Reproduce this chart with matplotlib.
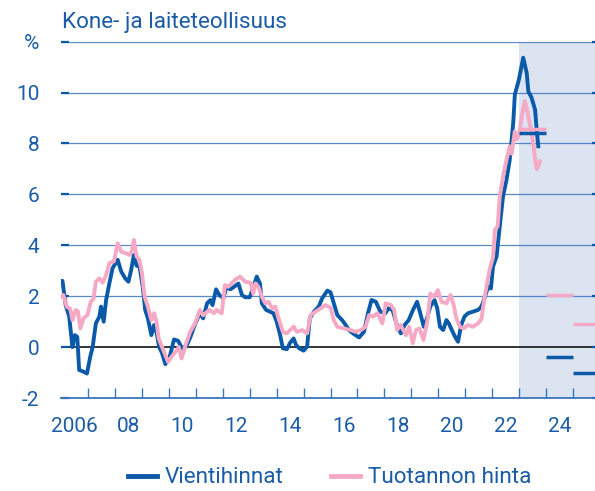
import matplotlib.pyplot as plt
import numpy as np
from matplotlib.ticker import FixedLocator

# Vientihinnat (vuosimuutos, %)
vienti_x = [2006.0, 2006.05, 2006.17, 2006.3, 2006.42, 2006.51, 2006.6, 2006.67, 2006.8, 2006.96,
            2007.08, 2007.17, 2007.29, 2007.42, 2007.48, 2007.58, 2007.67, 2007.79, 2007.91, 2008.1,
            2008.23, 2008.38, 2008.5, 2008.6, 2008.7, 2008.8, 2008.91, 2009.03, 2009.12, 2009.22,
            2009.35, 2009.45, 2009.55, 2009.64, 2009.74, 2009.87, 2010.03, 2010.19, 2010.34, 2010.49,
            2010.65, 2010.8, 2010.96, 2011.15, 2011.27, 2011.42, 2011.54, 2011.62, 2011.75, 2011.87,
            2012.02, 2012.14, 2012.28, 2012.42, 2012.58, 2012.71, 2012.83, 2013.0, 2013.14, 2013.26,
            2013.38, 2013.45, 2013.61, 2013.76, 2013.88, 2014.0, 2014.13, 2014.23, 2014.38, 2014.5,
            2014.63, 2014.72, 2014.84, 2015.0, 2015.13, 2015.23, 2015.38, 2015.56, 2015.69, 2015.88,
            2016.0, 2016.12, 2016.25, 2016.43, 2016.56, 2016.68, 2016.87, 2017.06, 2017.24, 2017.39,
            2017.52, 2017.68, 2017.85, 2018.03, 2018.15, 2018.3, 2018.46, 2018.61, 2018.75, 2018.9,
            2019.06, 2019.21, 2019.33, 2019.46, 2019.58, 2019.7, 2019.86, 2019.96, 2020.06, 2020.18,
            2020.3, 2020.39, 2020.5, 2020.62, 2020.73, 2020.85, 2020.97, 2021.1, 2021.28, 2021.47,
            2021.57, 2021.65, 2021.85, 2021.95, 2022.03, 2022.16, 2022.28, 2022.4, 2022.53, 2022.65,
            2022.78, 2022.84, 2022.99, 2023.15, 2023.28, 2023.34, 2023.46, 2023.59, 2023.65, 2023.71]
vienti_y = [2.6, 2.6, 1.65, 1.2, 0.0, 0.47, 0.4, -0.9, -0.95, -1.04,
            -0.38, 0.0, 0.93, 1.2, 1.59, 1.0, 1.85, 2.5, 3.1, 3.43,
            2.97, 2.7, 2.57, 3.03, 3.62, 3.2, 3.16, 2.37, 1.46, 1.13,
            0.47, 0.87, 0.54, 0.0, -0.22, -0.67, -0.38, 0.3, 0.25, -0.05,
            0.04, 0.4, 0.87, 1.33, 1.13, 1.72, 1.85, 1.65, 2.27, 2.05,
            1.92, 2.37, 2.27, 2.37, 2.5, 2.05, 1.96, 1.96, 2.37, 2.77,
            2.5, 1.72, 1.46, 1.39, 1.33, 1.0, 0.47, -0.05, -0.08, 0.17,
            0.34, 0.08, -0.05, -0.14, 0.02, 1.13, 1.39, 1.59, 1.92, 2.22,
            2.15, 1.72, 1.26, 1.06, 0.87, 0.67, 0.51, 0.38, 0.6, 1.33,
            1.85, 1.78, 1.39, 1.33, 1.52, 1.46, 0.87, 0.54, 0.87, 1.06,
            1.46, 1.78, 1.33, 0.8, 1.13, 1.59, 1.85, 1.52, 0.8, 0.67,
            1.06, 0.93, 0.67, 0.41, 0.21, 0.87, 1.2, 1.33, 1.39, 1.46,
            1.55, 1.72, 2.37, 2.3, 3.16, 3.56, 4.74, 5.92, 6.57, 7.36,
            8.81, 9.92, 10.51, 11.37, 10.77, 10.05, 9.8, 9.33, 8.54, 7.89]

# Tuotannon hinta (vuosimuutos, %)
tuotanto_x = [2006.0, 2006.08, 2006.21, 2006.34, 2006.42, 2006.55, 2006.63, 2006.71, 2006.83, 2006.98,
              2007.1, 2007.2, 2007.29, 2007.42, 2007.54, 2007.67, 2007.79, 2007.96, 2008.1, 2008.23,
              2008.42, 2008.55, 2008.63, 2008.7, 2008.8, 2008.91, 2009.0, 2009.1, 2009.22, 2009.35,
              2009.45, 2009.54, 2009.62, 2009.72, 2009.82, 2009.97, 2010.1, 2010.25, 2010.37, 2010.47,
              2010.62, 2010.79, 2010.98, 2011.15, 2011.27, 2011.5, 2011.67, 2011.77, 2011.96, 2012.08,
              2012.2, 2012.33, 2012.45, 2012.64, 2012.83, 2013.03, 2013.13, 2013.21, 2013.32, 2013.45,
              2013.58, 2013.7, 2013.83, 2013.95, 2014.07, 2014.23, 2014.38, 2014.5, 2014.63, 2014.75,
              2014.94, 2015.13, 2015.26, 2015.44, 2015.63, 2015.81, 2016.0, 2016.12, 2016.25, 2016.5,
              2016.75, 2016.93, 2017.12, 2017.3, 2017.43, 2017.58, 2017.74, 2017.92, 2018.05, 2018.24,
              2018.36, 2018.47, 2018.6, 2018.8, 2018.92, 2019.05, 2019.17, 2019.3, 2019.45, 2019.6,
              2019.7, 2019.85, 2019.98, 2020.12, 2020.3, 2020.45, 2020.57, 2020.67, 2020.8, 2020.93,
              2021.1, 2021.28, 2021.47, 2021.6, 2021.72, 2021.9, 2022.03, 2022.1, 2022.2, 2022.28,
              2022.4, 2022.53, 2022.65, 2022.72, 2022.84, 2022.9, 2023.0, 2023.13, 2023.21, 2023.3,
              2023.44, 2023.52, 2023.61, 2023.66, 2023.77]
tuotanto_y = [1.98, 2.05, 1.59, 1.5, 1.06, 1.46, 1.4, 0.73, 1.13, 1.26,
              1.78, 1.9, 2.57, 2.7, 2.53, 2.83, 3.3, 3.37, 4.08, 3.75,
              3.68, 3.62, 3.8, 4.21, 3.56, 3.43, 2.9, 1.98, 1.59, 1.06,
              1.33, 1.0, 0.34, 0.08, -0.18, -0.58, -0.38, -0.18, 0.0, -0.45,
              0.08, 0.6, 0.95, 1.46, 1.25, 1.46, 1.33, 1.46, 1.33, 2.44,
              2.37, 2.5, 2.64, 2.77, 2.57, 2.53, 2.1, 2.5, 2.37, 1.98,
              1.72, 1.78, 1.52, 1.59, 1.13, 0.6, 0.54, 0.67, 0.8, 0.6,
              0.67, 0.54, 1.26, 1.39, 1.52, 1.65, 1.55, 1.06, 0.8, 0.73,
              0.67, 0.6, 0.67, 0.8, 1.26, 1.2, 1.33, 0.93, 1.72, 1.65,
              1.46, 0.67, 0.87, 0.47, 0.8, 0.15, 0.67, 0.73, 0.28, 1.06,
              2.1, 1.98, 2.24, 1.78, 1.72, 2.05, 1.65, 1.13, 0.8, 0.73,
              0.87, 0.8, 0.93, 1.1, 1.98, 3.03, 3.54, 4.61, 4.74, 5.92,
              6.7, 7.36, 7.89, 7.6, 8.48, 8.15, 8.35, 9.27, 9.66, 9.27,
              8.54, 8.02, 7.23, 7.0, 7.3]

# Ennusteet vuosille 2023-2025
ennuste_vuodet = [2023, 2024, 2025]
ennuste_vienti = [8.4, -0.4, -1.0]
ennuste_tuotanto = [8.55, 2.05, 0.9]

y_ticks = [-2, 0, 2, 4, 6, 8, 10, 12]
y_labels = ['-2', '0', '2', '4', '6', '8', '10', '%']
x_label_years = [2006, 2008, 2010, 2012, 2014, 2016, 2018, 2020, 2022, 2024]
x_labels = ['2006', '08', '10', '12', '14', '16', '18', '20', '22', '24']

BLUE = '#0b5aa9'
PINK = '#f5a9c5'
TXT = '#1a5ca8'
GRID = '#3a76bf'
SHADE = '#dce3f1'

plt.rcParams['font.family'] = ['Roboto', 'DejaVu Sans']

fig = plt.figure(figsize=(5.95, 4.91), dpi=100)
ax = fig.add_axes([0.1027, 0.1894, 0.9057, 0.7257])

ax.set_xlim(2006, 2026)
ax.set_ylim(-2, 12)

ax.axvspan(2023, 2026, color=SHADE, zorder=0.5, lw=0)

for y in y_ticks:
    if y == 0:
        ax.axhline(0, color='#333333', lw=1.4, zorder=1.5)
    elif y > 0:
        ax.axhline(y, color=GRID, lw=0.9, zorder=1, alpha=0.85)

ax.plot(vienti_x, vienti_y, color=BLUE, lw=2.8, zorder=3, solid_joinstyle='round')
ax.plot(tuotanto_x, tuotanto_y, color=PINK, lw=2.8, zorder=4, solid_joinstyle='round')

for yr, v, t in zip(ennuste_vuodet, ennuste_vienti, ennuste_tuotanto):
    ax.plot([yr, yr + 1], [t, t], color=PINK, lw=2.5, zorder=4, solid_capstyle='butt')
    ax.plot([yr, yr + 1], [v, v], color=BLUE, lw=2.5, zorder=5, solid_capstyle='butt')

for s in ['top', 'left', 'right']:
    ax.spines[s].set_visible(False)
ax.spines['bottom'].set_color(GRID)
ax.spines['bottom'].set_linewidth(1.3)
ax.spines['bottom'].set_zorder(6)

ax.set_yticks(y_ticks)
ax.set_yticklabels(y_labels)
ax.tick_params(axis='y', which='major', direction='in', length=5.8, width=1.6, color=BLUE,
               left=True, right=True, labelsize=15, labelcolor=TXT, pad=15.5)

ax.xaxis.set_major_locator(FixedLocator(np.arange(2007, 2026)))
ax.xaxis.set_major_formatter(plt.NullFormatter())
ax.xaxis.set_minor_locator(FixedLocator([y + 0.5 for y in x_label_years]))
ax.set_xticklabels(x_labels, minor=True)
ax.tick_params(axis='x', which='major', direction='in', length=7.2, width=1.0, color=GRID)
ax.tick_params(axis='x', which='minor', length=0, labelsize=15, labelcolor=TXT, pad=13.5)

fig.text(0.105, 0.9424, 'Kone- ja laiteteollisuus', fontsize=16.2, color=TXT, va='baseline', ha='left')

h1, = ax.plot([], [], color=BLUE, lw=3.5)
h2, = ax.plot([], [], color=PINK, lw=3.5)
leg = fig.legend([h1, h2], ['Vientihinnat', 'Tuotannon hinta'], loc='center', bbox_to_anchor=(0.554, 0.0265),
                 ncol=2, frameon=False, fontsize=16.2, handlelength=1.3, handletextpad=0.33, columnspacing=2.1)
for t in leg.get_texts():
    t.set_color(TXT)

fig.savefig('out.png', dpi=100)
